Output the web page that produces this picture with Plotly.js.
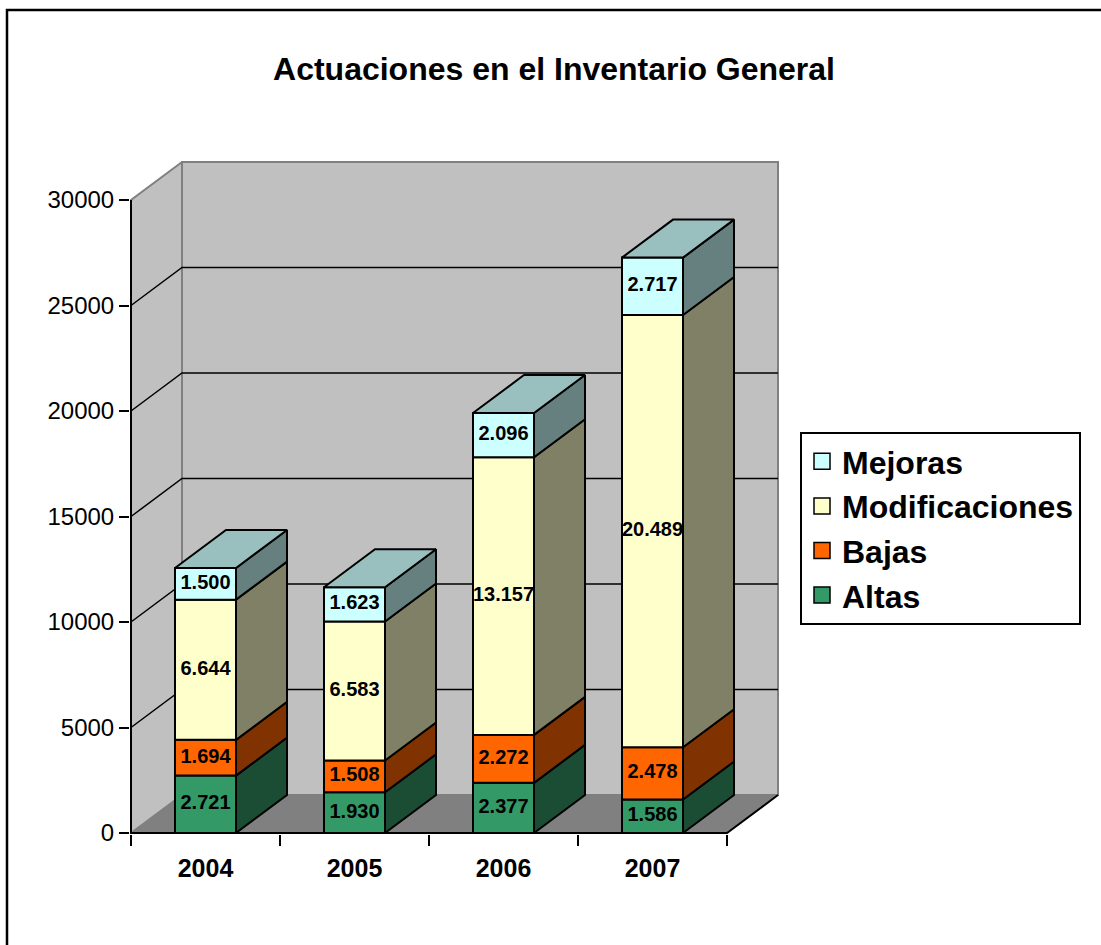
<!DOCTYPE html>
<html>
<head>
<meta charset="utf-8">
<script src="https://cdn.plot.ly/plotly-3.0.1.min.js"></script>
<style>html,body{margin:0;padding:0;background:#fff;}#chart{width:1101px;height:945px;}</style>
</head>
<body>
<div id="chart"></div>
<script>
// ---- data ----
const categories = ['2004', '2005', '2006', '2007'];
const seriesNames = ['Altas', 'Bajas', 'Modificaciones', 'Mejoras'];
const altas = [2721, 1930, 2377, 1586];
const bajas = [1694, 1508, 2272, 2478];
const modificaciones = [6644, 6583, 13157, 20489];
const mejoras = [1500, 1623, 2096, 2717];
const yTicks = [0, 5000, 10000, 15000, 20000, 25000, 30000];

// ---- styles ----
const frontColors = ['#339966', '#ff6600', '#ffffcc', '#ccffff'];
const sideColors = ['#1a4d33', '#803300', '#808066', '#668080'];
const topColor = '#99bfbf';
const FONT = 'Liberation Sans, Arial, sans-serif';

// ---- pseudo-3D geometry (in axis units) ----
const pxPerX = 149;              // px per category
const pxPerY = 633 / 30000;      // px per value unit
const depthX = 51 / pxPerX;      // depth offset in category units
const depthY = 38 / pxPerY;      // depth offset in value units
const halfW = 30.5 / pxPerX;     // half bar width
const x0 = -0.5, x1 = categories.length - 0.5;
const yMax = 30000;

const series = [altas, bajas, modificaciones, mejoras];
const traces = [];
function poly(xs, ys, fill, line) {
  traces.push({type: 'scatter', mode: 'lines', x: xs.concat([xs[0]]), y: ys.concat([ys[0]]),
    fill: 'toself', fillcolor: fill, line: line, hoverinfo: 'skip', showlegend: false});
}
function lines(xs, ys, color, width) {
  traces.push({type: 'scatter', mode: 'lines', x: xs, y: ys, line: {color: color, width: width},
    hoverinfo: 'skip', showlegend: false});
}

// back wall
poly([x0 + depthX, x1 + depthX, x1 + depthX, x0 + depthX],
     [depthY, depthY, yMax + depthY, yMax + depthY], '#c0c0c0', {color: '#808080', width: 2});
// left wall
poly([x0, x0 + depthX, x0 + depthX, x0],
     [0, depthY, yMax + depthY, yMax], '#c0c0c0', {color: '#808080', width: 2});
// floor
poly([x0, x1, x1 + depthX, x0 + depthX], [0, 0, depthY, depthY], '#808080', {color: '#808080', width: 1});
// gridlines
{
  const gx = [], gy = [];
  yTicks.filter(v => v > 0 && v < yMax).forEach(v => {
    gx.push(x0, x0 + depthX, x1 + depthX, null);
    gy.push(v, v + depthY, v + depthY, null);
  });
  lines(gx, gy, '#000000', 1.5);
}
// floor front + right edge, front axis edge
lines([x1 + depthX, x1, x0, x0], [depthY, 0, 0, yMax], '#000000', 2);

// bars
const labX = [], labY = [], labT = [];
categories.forEach((c, i) => {
  let base = 0;
  const L = i - halfW, R = i + halfW;
  series.forEach((s, k) => {
    const v = s[i], top = base + v;
    // side face
    poly([R, R + depthX, R + depthX, R], [base, base + depthY, top + depthY, top],
         sideColors[k], {color: '#000000', width: 2});
    // front face
    poly([L, R, R, L], [base, base, top, top], frontColors[k], {color: '#000000', width: 2});
    if (k === series.length - 1) {
      poly([L, R, R + depthX, L + depthX], [top, top, top + depthY, top + depthY],
           topColor, {color: '#000000', width: 2});
    }
    labX.push(i); labY.push(base + v / 2);
    labT.push(String(v).replace(/\B(?=(\d{3})+(?!\d))/g, '.'));
    base = top;
  });
});

// value labels
traces.push({type: 'scatter', mode: 'text', x: labX, y: labY, text: labT,
  textfont: {family: FONT, size: 20, color: '#000000', weight: 'bold'},
  hoverinfo: 'skip', showlegend: false, cliponaxis: false});

// legend entries (markers placed outside visible range)
seriesNames.forEach((n, k) => {
  traces.push({type: 'scatter', mode: 'markers', x: [100], y: [0], name: n,
    marker: {symbol: 'square', size: 20, color: frontColors[k], line: {color: '#000000', width: 1.5}},
    hoverinfo: 'skip', showlegend: true});
});

const W = 1101, H = 945;
const layout = {
  width: W, height: H,
  margin: {l: 0, r: 0, t: 0, b: 0},
  paper_bgcolor: '#ffffff', plot_bgcolor: 'rgba(0,0,0,0)',
  showlegend: true,
  title: {text: '<b>Actuaciones en el Inventario General</b>',
    font: {family: FONT, size: 32, color: '#000000'},
    x: 554 / W, xanchor: 'center', xref: 'paper', y: 1 - 69 / H, yanchor: 'middle'},
  xaxis: {
    domain: [130 / W, 790 / W],
    range: [x0 - 1 / pxPerX, x0 + (790 - 131) / pxPerX],
    tickmode: 'array', tickvals: [0, 1, 2, 3], ticktext: categories,
    ticks: '', showgrid: false, zeroline: false, showline: false,
    tickfont: {family: FONT, size: 25, color: '#000000', weight: 'bold'},
    ticklabelstandoff: 17,
    minor: {tickmode: 'array', tickvals: [-0.5, 0.5, 1.5, 2.5, 3.5], ticks: 'outside',
      ticklen: 11, tickwidth: 2, tickcolor: '#000000', showgrid: false},
    fixedrange: true
  },
  yaxis: {
    domain: [1 - 834 / H, 1 - 150 / H],
    range: [-1 / pxPerY, (833 - 150) / pxPerY],
    tickmode: 'array', tickvals: yTicks, ticktext: yTicks.map(String),
    ticks: 'outside', ticklen: 10, tickwidth: 2, tickcolor: '#000000',
    showgrid: false, zeroline: false, showline: false,
    tickfont: {family: FONT, size: 24, color: '#000000'},
    fixedrange: true
  },
  legend: {
    x: 800 / W, xanchor: 'left', y: 1 - 432 / H, yanchor: 'top',
    bgcolor: '#ffffff', bordercolor: '#000000', borderwidth: 2,
    font: {family: FONT, size: 32, color: '#000000', weight: 'bold'},
    traceorder: 'reversed', itemsizing: 'trace'
  },
  shapes: [{type: 'rect', xref: 'paper', yref: 'paper', x0: 7 / W, y0: -0.02, x1: 1.02, y1: 1 - 10 / H,
    line: {color: '#000000', width: 2.5}, fillcolor: 'rgba(0,0,0,0)', layer: 'below'}]
};

Plotly.newPlot('chart', traces, layout, {displayModeBar: false, staticPlot: true});
</script>
</body>
</html>
